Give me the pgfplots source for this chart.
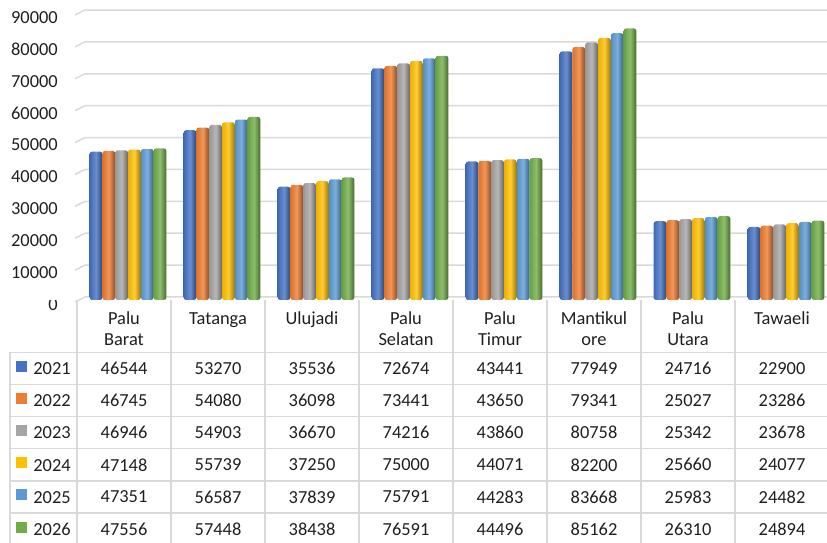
\documentclass[border=0pt]{standalone}
\usepackage{pgfplots}
\pgfplotsset{compat=1.18}
\usepackage{pgfplotstable}
\usepackage{fontspec}
\setmainfont{Carlito}
\definecolor{c1}{HTML}{4472C4}
\definecolor{c2}{HTML}{ED7D31}
\definecolor{c3}{HTML}{A5A5A5}
\definecolor{c4}{HTML}{FFC000}
\definecolor{c5}{HTML}{5B9BD5}
\definecolor{c6}{HTML}{70AD47}
\definecolor{gridc}{HTML}{D9D9D9}
\definecolor{txt}{HTML}{1F1F1F}
\newcommand{\fsz}{\fontsize{18.4}{21}\selectfont}

\pgfplotstableread{
x y2021 y2022 y2023 y2024 y2025 y2026
0 46544 46745 46946 47148 47351 47556
1 53270 54080 54903 55739 56587 57448
2 35536 36098 36670 37250 37839 38438
3 72674 73441 74216 75000 75791 76591
4 43441 43650 43860 44071 44283 44496
5 77949 79341 80758 82200 83668 85162
6 24716 25027 25342 25660 25983 26310
7 22900 23286 23678 24077 24482 24894
}\data

\pgfplotsset{
  cyl/.style={ybar, forget plot, bar width=12.7pt, draw=none, rounded corners=2.5pt,
    left color=#1!92!black, right color=#1!62!black, middle color=#1!80!white},
  valrow/.style={draw=none, mark=none, forget plot, nodes near coords,
    point meta=explicit symbolic,
    every node near coord/.append style={anchor=center, yshift=#1, inner sep=0pt, font=\fsz, text=txt}},
  legsq/.style={legend image code/.code={\fill[#1] (0pt,-2.5pt) rectangle (10pt,7.5pt);}},
}

\begin{document}
\begin{tikzpicture}
\begin{axis}[
  at={(77pt,243pt)}, anchor=south west,
  scale only axis, width=752pt, height=287pt,
  xmin=-0.5, xmax=7.5, ymin=0, ymax=90000,
  clip=false,
  axis line style={draw=none},
  major tick length=0pt,
  xtick={0,1,2,3,4,5,6,7},
  xticklabels={Palu\\Barat, Tatanga, Ulujadi, Palu\\Selatan, Palu\\Timur, Mantikul\\ore, Palu\\Utara, Tawaeli},
  ytick={0,10000,20000,30000,40000,50000,60000,70000,80000,90000},
  scaled y ticks=false,
  /pgf/number format/1000 sep={},
  /pgf/number format/assume math mode=true,
  tick label style={font=\fsz, text=txt},
  xticklabel style={anchor=north, align=center, inner sep=0pt, yshift=-12pt},
  yticklabel style={anchor=east, inner sep=0pt, xshift=-19pt, yshift=-4.5pt},
  legend style={at={([xshift=-61pt,yshift=-61pt]rel axis cs:0,0)}, anchor=north west,
    draw=none, fill=none, inner sep=0pt, outer sep=0pt, row sep=18.4pt,
    font=\fsz, text=txt,
    nodes={inner sep=0pt, text height=12pt, text depth=0pt},
    /tikz/every odd column/.append style={column sep=7pt}},
  legend cell align=left,
]
\pgfplotsinvokeforeach{0,10000,20000,30000,40000,50000,60000,70000,80000,90000}{
  \draw[gridc, line width=1.5pt] ([xshift=-2pt,yshift=-2pt]axis cs:-0.5,#1) -- ([xshift=8pt,yshift=3pt]axis cs:-0.5,#1) -- ([yshift=3pt]axis cs:7.5,#1);
}
\pgfplotsinvokeforeach{0,1,2,3,4,5,6,7}{
\addplot[cyl=c1, bar shift=-28pt, restrict expr to domain={\coordindex}{#1:#1}] table[x=x, y=y2021] {\data};
\addplot[cyl=c2, bar shift=-15.2pt, restrict expr to domain={\coordindex}{#1:#1}] table[x=x, y=y2022] {\data};
\addplot[cyl=c3, bar shift=-2.4pt, restrict expr to domain={\coordindex}{#1:#1}] table[x=x, y=y2023] {\data};
\addplot[cyl=c4, bar shift=10.4pt, restrict expr to domain={\coordindex}{#1:#1}] table[x=x, y=y2024] {\data};
\addplot[cyl=c5, bar shift=23.2pt, restrict expr to domain={\coordindex}{#1:#1}] table[x=x, y=y2025] {\data};
\addplot[cyl=c6, bar shift=36pt, restrict expr to domain={\coordindex}{#1:#1}] table[x=x, y=y2026] {\data};
}

\addplot[valrow=-68.5pt] table[x=x, y expr=0, meta=y2021] {\data};
\addplot[valrow=-100.6pt] table[x=x, y expr=0, meta=y2022] {\data};
\addplot[valrow=-132.7pt] table[x=x, y expr=0, meta=y2023] {\data};
\addplot[valrow=-164.8pt] table[x=x, y expr=0, meta=y2024] {\data};
\addplot[valrow=-196.9pt] table[x=x, y expr=0, meta=y2025] {\data};
\addplot[valrow=-229pt] table[x=x, y expr=0, meta=y2026] {\data};

\addlegendimage{legsq=c1}\addlegendentry{2021}
\addlegendimage{legsq=c2}\addlegendentry{2022}
\addlegendimage{legsq=c3}\addlegendentry{2023}
\addlegendimage{legsq=c4}\addlegendentry{2024}
\addlegendimage{legsq=c5}\addlegendentry{2025}
\addlegendimage{legsq=c6}\addlegendentry{2026}
\end{axis}
% data table grid
\foreach \x in {77,171,265,359,453,547,641,735} {\draw[gridc, line width=1.4pt] (\x pt,243pt) -- (\x pt,0pt);}
\draw[gridc, line width=1.4pt] (10pt,190.5pt) -- (10pt,0pt);
\foreach \y in {190.5,158.4,126.3,94.2,62.1,30} {\draw[gridc, line width=1.4pt] (10pt,\y pt) -- (827pt,\y pt);}
\fill[white] (40pt,243pt) rectangle (72pt,253pt);
\pgfresetboundingbox
\path[use as bounding box] (0pt,0pt) rectangle (827pt,543pt);
\end{tikzpicture}
\end{document}
